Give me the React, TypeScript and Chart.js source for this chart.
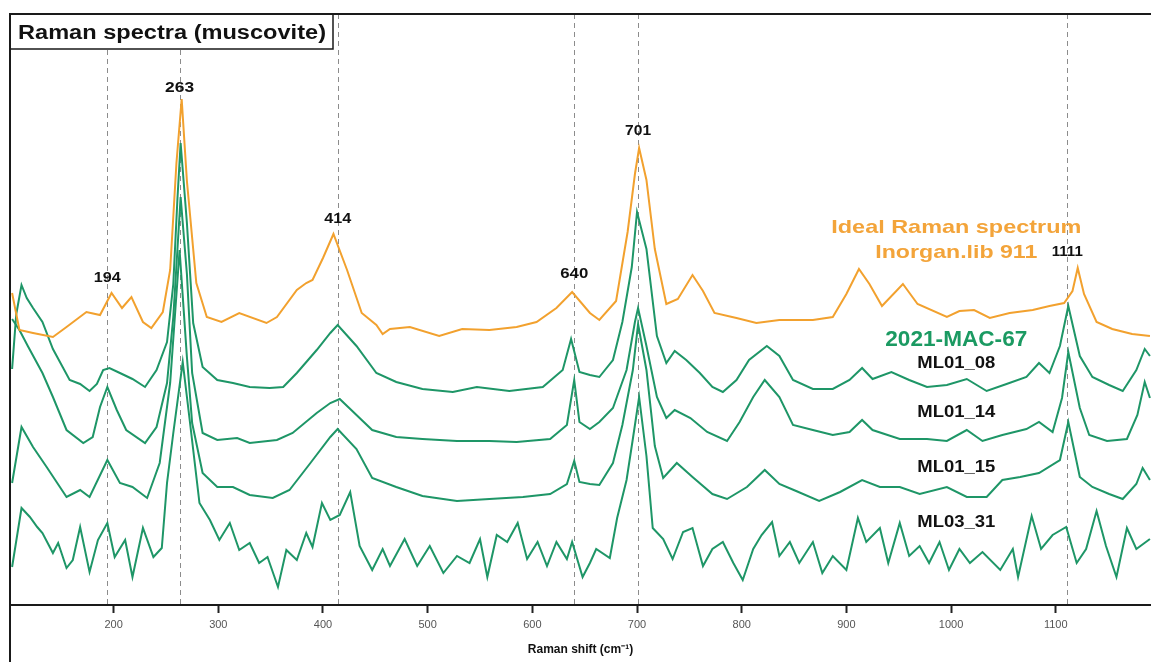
import React, { useEffect, useRef } from "react";
import { Chart, registerables } from "chart.js";

Chart.register(...registerables);

// ---------- data ----------
const X_TICKS = [200, 300, 400, 500, 600, 700, 800, 900, 1000, 1100];
const PEAKS = [194, 263, 414, 640, 701, 1111];
const PEAK_LABELS = ["194", "263", "414", "640", "701", "1111"];
const PEAK_LABEL_Y = [326, 516, 385, 330, 473, 352];

const IDEAL_X = [103, 110, 123, 142, 155, 174, 187, 198, 208, 217, 228, 236, 247, 254, 260, 265, 270, 279, 289, 303, 320, 346, 356, 375, 384, 390, 400, 410, 423, 437, 451, 457, 464, 483, 511, 533, 559, 585, 604, 623, 638, 655, 664, 680, 691, 698, 702, 709, 717, 728, 739, 753, 763, 774, 795, 814, 836, 868, 887, 900, 912, 922, 934, 954, 968, 996, 1008, 1022, 1037, 1056, 1078, 1094, 1108, 1116, 1121, 1127, 1139, 1154, 1173, 1190];
const IDEAL_Y = [311, 274, 271, 267, 277, 292, 289, 311, 296, 307, 282, 276, 292, 334, 441, 505, 423, 321, 287, 282, 291, 281, 287, 314, 321, 324, 346, 370, 334, 291, 279, 270, 275, 277, 268, 275, 274, 277, 282, 296, 312, 291, 284, 303, 372, 430, 456, 424, 355, 300, 305, 329, 313, 291, 286, 281, 284, 284, 287, 310, 335, 320, 298, 320, 300, 287, 293, 294, 286, 291, 294, 298, 301, 313, 336, 310, 282, 275, 270, 268];

const ML01_08_X = [103, 107, 112, 117, 123, 132, 142, 158, 168, 177, 184, 190, 196, 206, 218, 230, 241, 251, 257, 261, 264, 270, 276, 285, 299, 314, 330, 349, 362, 375, 394, 407, 414, 432, 451, 470, 495, 524, 547, 578, 610, 629, 637, 645, 655, 664, 677, 686, 695, 700, 709, 719, 728, 736, 747, 760, 772, 782, 795, 807, 824, 836, 849, 868, 887, 903, 915, 925, 943, 960, 977, 996, 1015, 1034, 1053, 1072, 1084, 1094, 1104, 1112, 1123, 1135, 1151, 1164, 1177, 1185, 1190];
const ML01_08_Y = [235, 290, 319, 306, 296, 282, 255, 224, 220, 213, 220, 234, 236, 231, 225, 217, 234, 262, 320, 406, 461, 381, 281, 237, 224, 221, 217, 216, 217, 231, 254, 271, 279, 258, 231, 222, 215, 212, 217, 213, 217, 234, 265, 232, 229, 227, 244, 282, 337, 392, 355, 268, 241, 253, 244, 231, 217, 212, 224, 244, 258, 248, 224, 215, 215, 224, 236, 225, 232, 224, 217, 219, 225, 213, 220, 227, 241, 231, 258, 298, 248, 227, 219, 213, 234, 255, 248];

const ML01_14_X = [103, 110, 118, 132, 142, 155, 171, 180, 187, 194, 203, 212, 230, 241, 251, 257, 264, 270, 275, 285, 299, 318, 330, 356, 371, 394, 407, 416, 432, 447, 470, 495, 528, 559, 585, 617, 633, 640, 645, 655, 664, 677, 690, 698, 701, 709, 719, 728, 736, 751, 767, 786, 798, 811, 822, 836, 849, 868, 887, 903, 915, 925, 951, 977, 996, 1015, 1030, 1049, 1072, 1084, 1097, 1106, 1112, 1123, 1132, 1149, 1168, 1178, 1185, 1190];
const ML01_14_Y = [285, 274, 258, 231, 207, 174, 161, 167, 197, 217, 194, 174, 161, 177, 221, 287, 407, 330, 231, 171, 164, 166, 161, 164, 171, 191, 201, 205, 189, 174, 167, 165, 163, 163, 162, 165, 179, 224, 182, 175, 182, 196, 234, 282, 296, 258, 207, 186, 194, 186, 172, 163, 182, 207, 224, 207, 179, 174, 169, 172, 184, 174, 165, 165, 163, 174, 163, 169, 175, 182, 172, 206, 252, 196, 169, 163, 165, 189, 222, 206];

const ML01_15_X = [103, 112, 123, 136, 155, 168, 177, 194, 206, 218, 232, 244, 254, 263, 270, 275, 285, 299, 314, 330, 352, 368, 388, 407, 414, 432, 447, 470, 495, 528, 559, 591, 617, 633, 640, 645, 655, 664, 677, 686, 696, 701, 709, 717, 725, 738, 753, 772, 786, 805, 822, 836, 852, 874, 894, 915, 932, 951, 970, 996, 1015, 1034, 1049, 1066, 1084, 1104, 1112, 1123, 1135, 1151, 1164, 1177, 1183, 1190];
const ML01_15_Y = [121, 177, 157, 137, 107, 114, 107, 144, 121, 117, 106, 141, 221, 354, 247, 181, 131, 117, 117, 109, 106, 114, 141, 167, 175, 155, 126, 117, 108, 103, 105, 107, 110, 120, 143, 122, 120, 119, 141, 179, 234, 280, 234, 158, 126, 141, 127, 110, 105, 117, 134, 120, 113, 103, 112, 124, 117, 117, 110, 117, 107, 107, 124, 127, 131, 144, 182, 127, 117, 110, 105, 120, 136, 124];

const ML03_31_X = [103, 112, 120, 127, 132, 142, 147, 155, 161, 168, 177, 185, 194, 201, 211, 218, 228, 238, 246, 251, 257, 266, 273, 282, 292, 301, 311, 320, 330, 339, 347, 357, 365, 375, 384, 390, 399, 407, 416, 426, 435, 447, 457, 464, 478, 490, 502, 515, 528, 540, 550, 557, 566, 576, 586, 595, 605, 614, 623, 633, 638, 648, 655, 661, 674, 681, 690, 696, 702, 709, 715, 725, 734, 744, 753, 763, 772, 782, 792, 801, 811, 819, 829, 836, 846, 855, 868, 877, 887, 900, 911, 919, 932, 940, 951, 960, 970, 979, 989, 998, 1008, 1018, 1030, 1047, 1059, 1064, 1077, 1086, 1097, 1110, 1120, 1129, 1139, 1148, 1158, 1168, 1177, 1190];
const ML03_31_Y = [37, 96, 87, 77, 71, 51, 61, 36, 44, 77, 32, 64, 81, 47, 64, 27, 76, 47, 56, 121, 171, 242, 181, 101, 84, 64, 81, 54, 61, 41, 47, 17, 54, 44, 71, 57, 101, 84, 89, 112, 58, 34, 55, 38, 65, 38, 58, 31, 48, 41, 65, 27, 69, 62, 81, 45, 62, 38, 62, 45, 62, 27, 41, 55, 46, 86, 124, 165, 207, 148, 76, 65, 45, 72, 76, 38, 55, 62, 41, 24, 55, 69, 82, 48, 62, 41, 62, 31, 48, 34, 86, 62, 76, 41, 81, 48, 58, 41, 62, 34, 55, 41, 52, 34, 55, 27, 88, 55, 69, 77, 41, 55, 93, 58, 27, 76, 55, 65];

const SERIES_TEXT = ["Ideal Raman spectrum", "Inorgan.lib 911", "2021-MAC-67", "ML01_08", "ML01_14", "ML01_15", "ML03_31"];
const SERIES_TEXT_Y = [376, 351, 264, 240, 191, 136, 81];
const SERIES_TEXT_X = 1005;

const CHART_TITLE = "Raman spectra (muscovite)";
const AXIS_TITLE = "Raman shift (cm\u207B\u00B9)";

// ---------- styles ----------
const FONT = "'Liberation Sans', Arial, sans-serif";
const ORANGE = "#f2a12e";
const ORANGE_TEXT = "#f3a43a";
const GREEN = "#1e9667";
const GREEN_TEXT = "#1b9a62";
const SERIES_TEXT_STYLE = [
  { size: 19, width: 250, color: ORANGE_TEXT },
  { size: 19, width: 162, color: ORANGE_TEXT },
  { size: 22, width: 142, color: GREEN_TEXT },
  { size: 16, width: 78, color: "#111" },
  { size: 16, width: 78, color: "#111" },
  { size: 16, width: 78, color: "#111" },
  { size: 16, width: 78, color: "#111" },
];
const PEAK_LABEL_WIDTH = [27, 29, 27, 28, 26, 31];

function toPoints(xs: number[], ys: number[]) {
  return xs.map((x, i) => ({ x, y: ys[i] }));
}

function fitText(ctx: CanvasRenderingContext2D, text: string, cx: number, cy: number, size: number, width: number, color: string) {
  ctx.save();
  ctx.font = `bold ${size}px ${FONT}`;
  const w = ctx.measureText(text).width || 1;
  ctx.translate(cx, cy);
  ctx.scale(width / w, 1);
  ctx.fillStyle = color;
  ctx.textAlign = "center";
  ctx.textBaseline = "middle";
  ctx.fillText(text, 0, 0);
  ctx.restore();
}

const annotate = {
  id: "annotate",
  beforeDatasetsDraw(chart: any) {
    const { ctx, chartArea, scales } = chart;
    const x = scales.x;
    ctx.save();
    ctx.strokeStyle = "#8c8c8c";
    ctx.lineWidth = 1;
    ctx.setLineDash([5, 4]);
    PEAKS.forEach((p) => {
      const px = Math.round(x.getPixelForValue(p)) + 0.5;
      ctx.beginPath();
      ctx.moveTo(px, chartArea.top);
      ctx.lineTo(px, chartArea.bottom);
      ctx.stroke();
    });
    ctx.restore();
  },
  afterDraw(chart: any) {
    const { ctx, chartArea, scales, width, height } = chart;
    const x = scales.x;
    const y = scales.y;
    ctx.save();
    // frame (top and left)
    ctx.fillStyle = "#1a1a1a";
    ctx.fillRect(chartArea.left - 1, chartArea.top - 1, width - chartArea.left + 1, 2);
    ctx.fillRect(chartArea.left - 1, chartArea.top - 1, 2, height - chartArea.top + 1);
    // title box
    ctx.fillStyle = "#fff";
    ctx.fillRect(chartArea.left + 1, chartArea.top + 1, 322, 34);
    ctx.strokeStyle = "#1a1a1a";
    ctx.lineWidth = 1.5;
    ctx.beginPath();
    ctx.moveTo(chartArea.left, chartArea.top + 35);
    ctx.lineTo(chartArea.left + 323, chartArea.top + 35);
    ctx.lineTo(chartArea.left + 323, chartArea.top);
    ctx.stroke();
    fitText(ctx, CHART_TITLE, chartArea.left + 162, chartArea.top + 19, 20, 308, "#111");
    // peak labels
    PEAKS.forEach((p, i) => {
      fitText(ctx, PEAK_LABELS[i], x.getPixelForValue(p), y.getPixelForValue(PEAK_LABEL_Y[i]), 15, PEAK_LABEL_WIDTH[i], "#111");
    });
    // series labels
    SERIES_TEXT.forEach((t, i) => {
      const s = SERIES_TEXT_STYLE[i];
      fitText(ctx, t, x.getPixelForValue(SERIES_TEXT_X), y.getPixelForValue(SERIES_TEXT_Y[i]), s.size, s.width, s.color);
    });
    ctx.restore();
  },
};

export default function App() {
  const ref = useRef<HTMLCanvasElement | null>(null);
  useEffect(() => {
    if (!ref.current) return;
    const mk = (label: string, xs: number[], ys: number[], color: string) => ({
      label,
      data: toPoints(xs, ys),
      borderColor: color,
      backgroundColor: color,
      borderWidth: 2,
      pointRadius: 0,
      tension: 0,
      fill: false,
    });
    const chart = new Chart(ref.current, {
      type: "line",
      data: {
        datasets: [
          mk("Ideal Raman spectrum", IDEAL_X, IDEAL_Y, ORANGE),
          mk("ML01_08", ML01_08_X, ML01_08_Y, GREEN),
          mk("ML01_14", ML01_14_X, ML01_14_Y, GREEN),
          mk("ML01_15", ML01_15_X, ML01_15_Y, GREEN),
          mk("ML03_31", ML03_31_X, ML03_31_Y, GREEN),
        ],
      },
      options: {
        animation: false,
        responsive: false,
        devicePixelRatio: 1,
        layout: { padding: { left: 10, top: 14, right: 0, bottom: 0 } },
        plugins: { legend: { display: false }, tooltip: { enabled: false }, title: { display: false } },
        scales: {
          x: {
            type: "linear",
            min: 101,
            max: 1191,
            afterBuildTicks: (scale: any) => {
              scale.ticks = X_TICKS.map((v) => ({ value: v }));
            },
            afterFit: (scale: any) => {
              scale.height = 57;
            },
            border: { display: true, color: "#1a1a1a", width: 2 },
            grid: { display: true, drawOnChartArea: false, drawTicks: true, tickLength: 8, tickWidth: 2, tickColor: "#222" },
            ticks: {
              color: "#555",
              font: { size: 11, family: FONT },
              padding: 5,
              maxRotation: 0,
              autoSkip: false,
              callback: (v: any) => String(v),
            },
            title: { display: true, text: AXIS_TITLE, color: "#111", font: { size: 12, weight: "bold", family: FONT }, padding: { top: 0, bottom: 5 } },
          },
          y: { display: false, min: -1, max: 590 },
        },
      },
      plugins: [annotate],
    } as any);
    return () => chart.destroy();
  }, []);
  return (
    <div style={{ position: "absolute", left: 0, top: 0, width: 1151, height: 662, background: "#fff" }}>
      <canvas ref={ref} width={1151} height={662} style={{ display: "block" }} />
    </div>
  );
}
